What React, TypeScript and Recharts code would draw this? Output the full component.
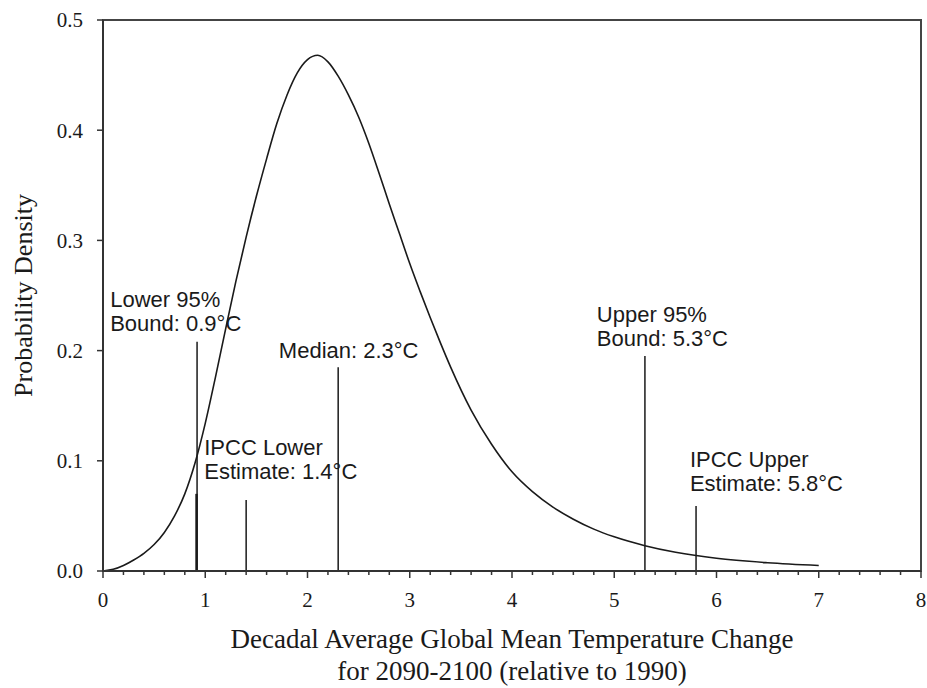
import {
  LineChart,
  Line,
  XAxis,
  YAxis,
  ReferenceLine,
  ReferenceArea,
  ReferenceDot,
} from 'recharts';

// Temperature change (°C) and probability density
const TEMP = [
  0, 0.1, 0.2, 0.3, 0.4, 0.5, 0.6, 0.7, 0.8, 0.9, 1.0, 1.1, 1.2, 1.3, 1.4, 1.5, 1.6, 1.7, 1.8, 1.9,
  2.0, 2.1, 2.2, 2.3, 2.4, 2.5, 2.6, 2.7, 2.8, 2.9, 3.0, 3.1, 3.2, 3.3, 3.4, 3.6, 3.8, 4.0, 4.2, 4.4,
  4.6, 4.8, 5.0, 5.3, 5.6, 6.0, 6.5, 7.0,
];
const DENSITY = [
  0, 0.0015, 0.005, 0.01, 0.016, 0.024, 0.035, 0.05, 0.07, 0.098, 0.134, 0.176, 0.22, 0.263,
  0.303, 0.34, 0.374, 0.406, 0.432, 0.452, 0.464, 0.468, 0.462, 0.449, 0.432, 0.412, 0.388, 0.361,
  0.333, 0.306, 0.279, 0.254, 0.23, 0.207, 0.185, 0.146, 0.115, 0.09, 0.072, 0.058, 0.047, 0.038,
  0.031, 0.023, 0.017, 0.0115, 0.0075, 0.005,
];

// Marker lines: x position and top of the line
const MARKER_X = [0.92, 1.4, 2.3, 5.3, 5.8];
const MARKER_TOP = [0.208, 0.0645, 0.185, 0.195, 0.059];
// short heavier stub at the lower bound
const STUB_X = 0.915;
const STUB_TOP = 0.07;

// Annotation texts
const NOTE_LINES = [
  ['Lower 95%', 'Bound: 0.9°C'],
  ['Median: 2.3°C'],
  ['IPCC Lower', 'Estimate: 1.4°C'],
  ['Upper 95%', 'Bound: 5.3°C'],
  ['IPCC Upper', 'Estimate: 5.8°C'],
];
// anchor (left edge, first baseline) of each annotation, in data units
const NOTE_X = [0.07, 1.72, 0.99, 4.83, 5.74];
const NOTE_Y = [0.24, 0.193, 0.105, 0.226, 0.0945];

const X_TICKS = [
  0, 0.2, 0.4, 0.6, 0.8, 1, 1.2, 1.4, 1.6, 1.8, 2, 2.2, 2.4, 2.6, 2.8, 3, 3.2, 3.4, 3.6, 3.8, 4,
  4.2, 4.4, 4.6, 4.8, 5, 5.2, 5.4, 5.6, 5.8, 6, 6.2, 6.4, 6.6, 6.8, 7, 7.2, 7.4, 7.6, 7.8, 8,
];
const Y_TICKS = [0, 0.1, 0.2, 0.3, 0.4, 0.5];

const X_TITLE = ['Decadal Average Global Mean Temperature Change', 'for 2090-2100 (relative to 1990)'];
const Y_TITLE = 'Probability Density';

const SERIF = '"Liberation Serif", "Times New Roman", serif';
const SANS = 'Arial, "Liberation Sans", sans-serif';
const INK = '#1a1a1a';
const AXIS = '#333';

const curve = TEMP.map((t, i) => ({ t, d: DENSITY[i] }));

function XTick({ x, y, payload }: any) {
  const v = payload.value;
  const major = Math.abs(v - Math.round(v)) < 1e-6;
  return (
    <g>
      <line x1={x} x2={x} y1={y} y2={y + (major ? 7 : 4)} stroke={AXIS} strokeWidth={1.5} />
      {major && (
        <text x={x} y={y + 36} textAnchor="middle" fontFamily={SERIF} fontSize={21} fill={INK}>
          {v}
        </text>
      )}
    </g>
  );
}

function XTitle({ viewBox }: any) {
  const cx = viewBox.x + viewBox.width / 2;
  return (
    <g fontFamily={SERIF} fontSize={27} fill={INK} textAnchor="middle">
      <text x={cx} y={648}>{X_TITLE[0]}</text>
      <text x={cx} y={680}>{X_TITLE[1]}</text>
    </g>
  );
}

function YTitle({ viewBox }: any) {
  const cy = viewBox.y + viewBox.height / 2;
  const cx = 32;
  return (
    <text
      x={cx}
      y={cy}
      transform={`rotate(-90, ${cx}, ${cy})`}
      textAnchor="middle"
      fontFamily={SERIF}
      fontSize={26}
      fill={INK}
    >
      {Y_TITLE}
    </text>
  );
}

function Note({ cx, cy, lines }: any) {
  return (
    <g fontFamily={SANS} fontSize={22} fill={INK}>
      {lines.map((s: string, i: number) => (
        <text key={s} x={cx} y={cy + i * 24}>
          {s}
        </text>
      ))}
    </g>
  );
}

export default function App() {
  return (
    <div style={{ position: 'absolute', left: 0, top: 0, background: '#fff' }}>
      <LineChart width={927} height={688} data={curve} margin={{ top: 20, right: 6, bottom: 0, left: 0 }}>
        <XAxis
          dataKey="t"
          type="number"
          domain={[0, 8]}
          ticks={X_TICKS}
          interval={0}
          tickSize={0}
          tickMargin={0}
          tickLine={false}
          tick={<XTick />}
          axisLine={{ stroke: AXIS, strokeWidth: 2 }}
          height={117}
          label={<XTitle />}
        />
        <YAxis
          type="number"
          domain={[0, 0.5]}
          ticks={Y_TICKS}
          tickFormatter={(v) => v.toFixed(1)}
          width={103}
          tickSize={6}
          tickMargin={14}
          tickLine={{ stroke: AXIS, strokeWidth: 1.5 }}
          axisLine={{ stroke: AXIS, strokeWidth: 2 }}
          tick={{ fontFamily: SERIF, fontSize: 21, fill: INK }}
          label={<YTitle />}
        />
        <ReferenceArea x1={0} x2={8} y1={0} y2={0.5} fill="none" stroke="#444" strokeWidth={2} />
        {MARKER_X.map((mx, i) => (
          <ReferenceLine
            key={mx}
            segment={[
              { x: mx, y: 0 },
              { x: mx, y: MARKER_TOP[i] },
            ]}
            stroke={INK}
            strokeWidth={1.5}
          />
        ))}
        <ReferenceLine
          segment={[
            { x: STUB_X, y: 0 },
            { x: STUB_X, y: STUB_TOP },
          ]}
          stroke={INK}
          strokeWidth={2.5}
        />
        <Line
          dataKey="d"
          type="monotone"
          stroke={INK}
          strokeWidth={1.6}
          dot={false}
          activeDot={false}
          isAnimationActive={false}
        />
        {NOTE_LINES.map((lines, i) => (
          <ReferenceDot
            key={lines[0]}
            x={NOTE_X[i]}
            y={NOTE_Y[i]}
            shape={(p: any) => <Note cx={p.cx} cy={p.cy} lines={lines} />}
          />
        ))}
      </LineChart>
    </div>
  );
}
